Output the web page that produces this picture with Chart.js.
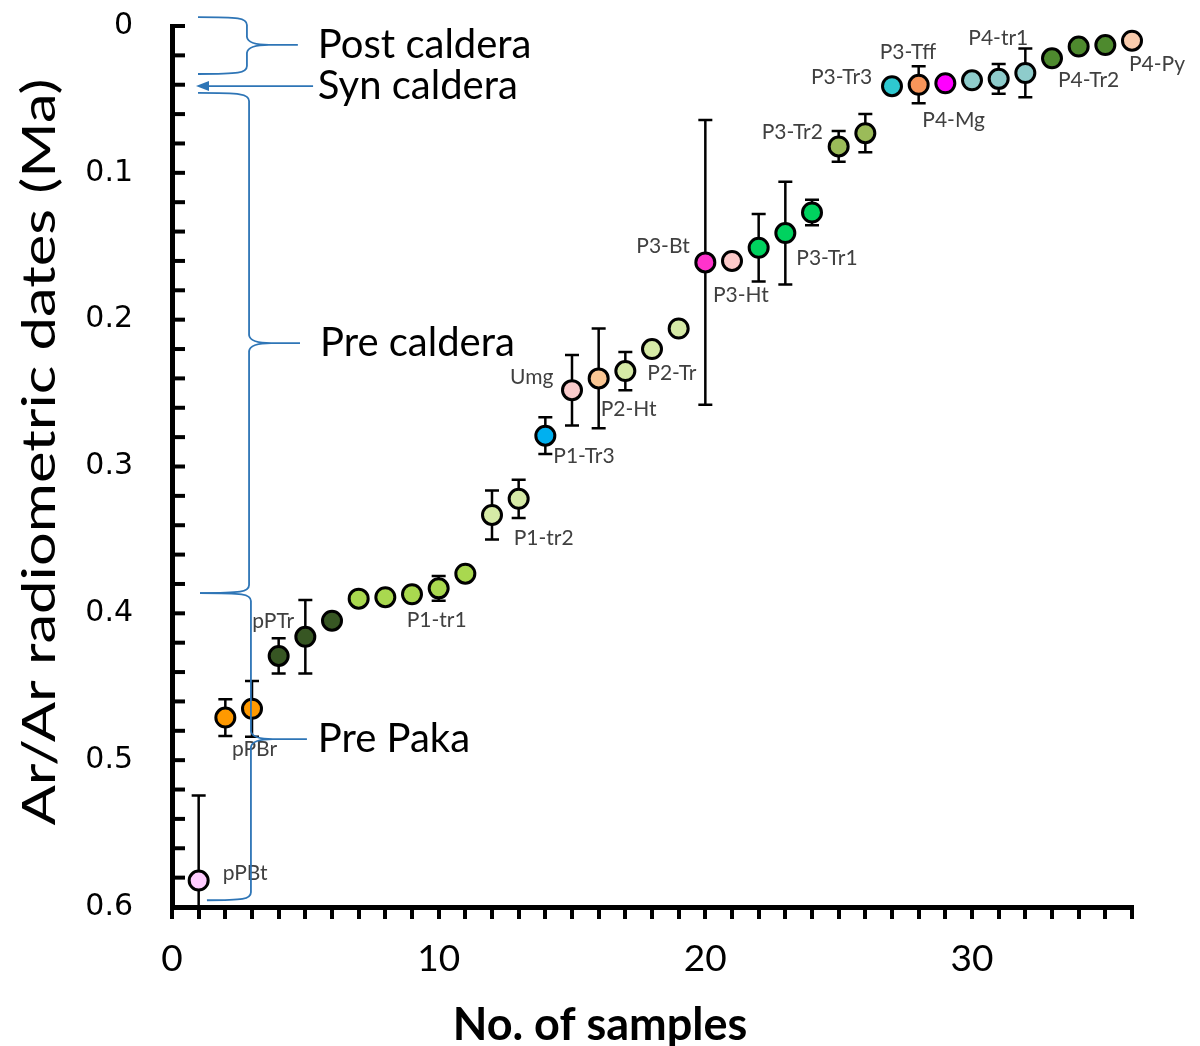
<!DOCTYPE html>
<html>
<head>
<meta charset="utf-8">
<script src="https://cdn.jsdelivr.net/npm/chart.js@4.4.1/dist/chart.umd.min.js"></script>
<style>
  html, body { margin: 0; padding: 0; background: #ffffff; }
  canvas { display: block; }
</style>
</head>
<body>
<canvas id="chart" width="1200" height="1046"></canvas>
<script>
// Sample number (x) and Ar/Ar age in Ma (y), with 1-sigma error
const sampleNo = [1, 2, 3, 4, 5, 6, 7, 8, 9, 10, 11, 12, 13, 14, 15, 16, 17, 18,
                  19, 20, 21, 22, 23, 24, 25, 26, 27, 28, 29, 30, 31, 32, 33, 34, 35, 36];
const ageMa = [0.582, 0.471, 0.465, 0.429, 0.416, 0.405, 0.390, 0.389, 0.387, 0.383, 0.373, 0.333,
               0.322, 0.279, 0.248, 0.240, 0.235, 0.220, 0.206, 0.161, 0.160, 0.151, 0.141, 0.127,
               0.082, 0.073, 0.041, 0.040, 0.039, 0.037, 0.036, 0.032, 0.022, 0.014, 0.013, 0.010];
const ageErr = [0.058, 0.0125, 0.019, 0.012, 0.025, 0, 0, 0, 0, 0.0085, 0, 0.0167,
                0.013, 0.0125, 0.024, 0.034, 0.013, 0, 0, 0.097, 0, 0.023, 0.035, 0.0087,
                0.0105, 0.013, 0, 0.0126, 0, 0, 0.0102, 0.0166, 0, 0, 0, 0];
const unitColors = ['#ffccff', '#ff9900', '#ff9900', '#375623', '#375623', '#375623',
                    '#a9d84f', '#a9d84f', '#a9d84f', '#a9d84f', '#a9d84f', '#d6eaa6',
                    '#d6eaa6', '#00b0f0', '#f9caca', '#fbc794', '#d6eaa6', '#d6eaa6',
                    '#d6eaa6', '#ff33cc', '#fccaca', '#00d25f', '#00d25f', '#00d25f',
                    '#9bbb59', '#9bbb59', '#2ec8d0', '#f7955a', '#ff00ff', '#8ecccb',
                    '#8ecccb', '#8ecccb', '#4e8a2e', '#4e8a2e', '#4e8a2e', '#f8cbad'];
// Unit name shown beside a sample ('' = no name)
const unitNames = ['pPBt', '', 'pPBr', '', 'pPTr', '', '', '', '', 'P1-tr1', '', '',
                   'P1-tr2', 'P1-Tr3', 'Umg', 'P2-Ht', 'P2-Tr', '', '', 'P3-Bt', 'P3-Ht', '',
                   'P3-Tr1', '', 'P3-Tr2', '', 'P3-Tr3', 'P3-Tff', 'P4-Mg', '', '', 'P4-tr1',
                   'P4-Tr2', '', '', 'P4-Py'];
// Tick labels
const xTickLabels = ['0', '10', '20', '30'];
const yTickLabels = ['0', '0.1', '0.2', '0.3', '0.4', '0.5', '0.6'];

// Name placement relative to its marker, in pixels [dx to text start, dy to text middle]
const namePlacement = {
  0: [24, -7], 2: [-20, 40], 4: [-53, -16], 9: [-32, 32], 12: [-5, 39], 13: [8, 21],
  14: [-62, -13], 15: [2, 31], 16: [22, 2], 19: [-69, -16], 20: [-19, 34], 22: [11, 25],
  24: [-77, -14], 26: [-81, -9], 27: [-39, -32], 28: [-23, 37], 31: [-57, -35],
  32: [6, 22], 35: [-3, 24]
};

// Eruptive-phase brackets (data units)
const phaseBraces = [
  { name: 'Post caldera', xEnd: 0.975, xEndBot: 0.975, xSpine: 2.81, xTip: 4.72, yTop: -0.0061, yMid: 0.0129, yBot: 0.0327, labelX: 5.47 },
  { name: 'Pre caldera', xEnd: 0.975, xEndBot: 1.05, xSpine: 2.89, xTip: 4.80, yTop: 0.0456, yMid: 0.216, yBot: 0.3862, labelX: 5.55 },
  { name: 'Pre Paka', xEnd: 1.05, xEndBot: 1.31, xSpine: 2.96, xTip: 5.06, yTop: 0.3862, yMid: 0.4857, yBot: 0.5954, labelX: 5.47 }
];
const synArrow = { name: 'Syn caldera', xFrom: 5.29, xTo: 0.9, y: 0.0409, labelX: 5.47 };

const points = sampleNo.map((x, i) => ({ x: x, y: ageMa[i] }));

const errorBarPlugin = {
  id: 'errorBars',
  beforeDatasetsDraw(chart) {
    const { ctx, chartArea, scales: { x, y } } = chart;
    ctx.save();
    ctx.beginPath();
    ctx.rect(chartArea.left, chartArea.top - 20, chartArea.right - chartArea.left + 20, chartArea.bottom - chartArea.top + 20);
    ctx.clip();
    ctx.strokeStyle = '#000000';
    ctx.lineWidth = 2.5;
    ageErr.forEach((e, i) => {
      if (!e) return;
      const px = x.getPixelForValue(sampleNo[i]);
      const y1 = y.getPixelForValue(ageMa[i] - e);
      const y2 = Math.min(y.getPixelForValue(ageMa[i] + e), chartArea.bottom);
      ctx.beginPath();
      ctx.moveTo(px, y1); ctx.lineTo(px, y2);
      ctx.moveTo(px - 7, y1); ctx.lineTo(px + 7, y1);
      if (y.getPixelForValue(ageMa[i] + e) <= chartArea.bottom) {
        ctx.moveTo(px - 7, y2); ctx.lineTo(px + 7, y2);
      }
      ctx.stroke();
    });
    ctx.restore();
  }
};

const decorPlugin = {
  id: 'decor',
  afterDraw(chart) {
    const { ctx, chartArea, scales: { x, y } } = chart;
    ctx.save();

    // inward minor/major ticks on the age axis
    ctx.strokeStyle = '#000000';
    ctx.lineWidth = 4;
    for (let k = 0; k <= 30; k++) {
      const py = y.getPixelForValue(k * 0.02);
      ctx.beginPath();
      ctx.moveTo(chartArea.left, py);
      ctx.lineTo(chartArea.left + 13, py);
      ctx.stroke();
    }

    // unit names
    ctx.fillStyle = '#404040';
    ctx.font = '21px Lato';
    ctx.textAlign = 'left';
    ctx.textBaseline = 'middle';
    unitNames.forEach((name, i) => {
      if (!name) return;
      const off = namePlacement[i] || [12, 0];
      ctx.fillText(name, x.getPixelForValue(sampleNo[i]) + off[0], y.getPixelForValue(ageMa[i]) + off[1]);
    });

    // phase brackets
    ctx.strokeStyle = '#2e75b6';
    ctx.fillStyle = '#2e75b6';
    ctx.lineWidth = 1.8;
    phaseBraces.forEach(b => {
      const xE = x.getPixelForValue(b.xEnd), xEB = x.getPixelForValue(b.xEndBot);
      const xS = x.getPixelForValue(b.xSpine), xT = x.getPixelForValue(b.xTip);
      const yT = y.getPixelForValue(b.yTop), yM = y.getPixelForValue(b.yMid), yB = y.getPixelForValue(b.yBot);
      const r = 8;
      ctx.beginPath();
      ctx.moveTo(xE, yT);
      ctx.bezierCurveTo(xS - 8, yT, xS, yT + 1, xS, yT + r);
      ctx.lineTo(xS, yM - r);
      ctx.quadraticCurveTo(xS + 1, yM, xS + 22, yM);
      ctx.lineTo(xT, yM);
      ctx.moveTo(xS + 22, yM);
      ctx.quadraticCurveTo(xS + 1, yM, xS, yM + r);
      ctx.lineTo(xS, yB - r);
      ctx.bezierCurveTo(xS, yB - 1, xS - 8, yB, xEB, yB);
      ctx.stroke();
    });
    {
      const ya = y.getPixelForValue(synArrow.y);
      const x1 = x.getPixelForValue(synArrow.xFrom), x2 = x.getPixelForValue(synArrow.xTo);
      ctx.beginPath();
      ctx.moveTo(x1, ya); ctx.lineTo(x2 + 10, ya);
      ctx.stroke();
      ctx.beginPath();
      ctx.moveTo(x2, ya);
      ctx.lineTo(x2 + 13, ya - 5);
      ctx.lineTo(x2 + 13, ya + 5);
      ctx.closePath();
      ctx.fill();
    }

    // phase names
    ctx.fillStyle = '#000000';
    ctx.font = '40px Lato';
    ctx.textBaseline = 'middle';
    phaseBraces.forEach(b => {
      ctx.fillText(b.name, x.getPixelForValue(b.labelX), y.getPixelForValue(b.yMid));
    });
    ctx.fillText(synArrow.name, x.getPixelForValue(synArrow.labelX), y.getPixelForValue(synArrow.y));

    // axis titles
    ctx.textAlign = 'center';
    ctx.font = 'bold 45px Lato';
    ctx.fillText('No. of samples', 600, 1025);

    ctx.save();
    ctx.translate(40, 452);
    ctx.rotate(-Math.PI / 2);
    ctx.font = '46px Lato';
    const title = 'Ar/Ar radiometric dates (Ma)';
    const w = ctx.measureText(title).width;
    ctx.scale(747 / w, 1);
    ctx.fillText(title, 0, 0);
    ctx.restore();

    ctx.restore();
  }
};

new Chart(document.getElementById('chart'), {
  type: 'scatter',
  data: {
    datasets: [{
      data: points,
      backgroundColor: unitColors,
      borderColor: '#000000',
      borderWidth: 3,
      pointRadius: 9.5,
      pointHoverRadius: 9.5,
      clip: false
    }]
  },
  options: {
    responsive: false,
    animation: false,
    devicePixelRatio: 1,
    layout: { padding: { top: 26, right: 68, left: 0, bottom: 0 } },
    plugins: { legend: { display: false }, tooltip: { enabled: false } },
    scales: {
      x: {
        type: 'linear',
        min: 0, max: 36,
        afterFit(scale) {
          scale.height = 139;
          scale.paddingLeft = 0; scale.paddingRight = 0;
        },
        border: { display: true, color: '#000000', width: 5 },
        grid: { display: true, drawOnChartArea: false, drawTicks: true, tickLength: 12, lineWidth: 4, color: '#000000' },
        ticks: {
          stepSize: 1, autoSkip: false, maxRotation: 0, padding: 18,
          color: '#000000',
          font: { family: 'Lato', size: 37 },
          callback: (v) => (Math.round(v) % 10 === 0 ? xTickLabels[Math.round(v) / 10] : '')
        }
      },
      y: {
        type: 'linear',
        reverse: true,
        min: 0, max: 0.6,
        afterFit(scale) {
          scale.width = 172;
          scale.paddingTop = 0; scale.paddingBottom = 0;
        },
        border: { display: true, color: '#000000', width: 5 },
        grid: { display: false, drawTicks: false },
        ticks: {
          stepSize: 0.02, autoSkip: false, padding: 39,
          color: '#000000',
          font: { family: 'DejaVu Sans', size: 30 },
          callback: (v) => {
            const k = Math.round(v * 100);
            return k % 10 === 0 ? yTickLabels[k / 10] : '';
          }
        }
      }
    }
  },
  plugins: [errorBarPlugin, decorPlugin]
});
</script>
</body>
</html>
